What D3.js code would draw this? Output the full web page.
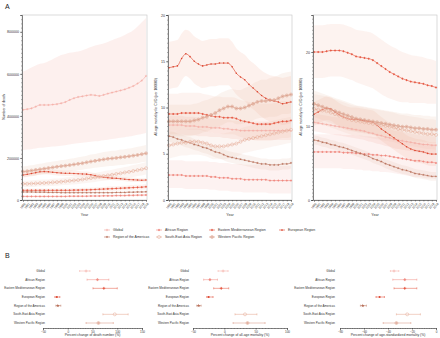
<!DOCTYPE html>
<html>
<head>
<meta charset="utf-8">
<script src="https://cdn.jsdelivr.net/npm/d3@7"></script>
<style>
body{margin:0;background:#fff}
svg{font-family:"Liberation Sans",Arial,sans-serif}
</style>
</head>
<body>
<div id="chart"></div>
<script>
// ---- data ----
var years = [1990,1991,1992,1993,1994,1995,1996,1997,1998,1999,2000,2001,2002,2003,2004,
	2005,2006,2007,2008,2009,2010,2011,2012,2013,2014,2015,2016,2017,2018,2019];

var regions = ["Global","African Region","Eastern Mediterranean Region","European Region",
	"Region of the Americas","South-East Asia Region","Western Pacific Region"];

// number of death, in thousands (order = regions)
var deathMid = [
	[429,432,436,444,452,452,452,454,456,460,466,476,484,490,493,497,500,498,495,500,506,511,516,521,526,534,542,554,568,590],
	[17,17,17,17,17,17,17,17,17,17,17,18,18,18,18,18,19,19,19,20,20,20,21,21,21,22,22,23,23,24],
	[46,46,46,46,46,46,46,46,46,46,46,46,47,47,48,48,49,50,51,52,53,54,55,56,57,58,59,60,61,63],
	[119,122,126,130,134,135,134,132,130,128,127,127,126,125,124,123,120,116,111,108,106,104,103,101,99,97,96,95,94,95],
	[38,38,38,37,37,37,36,36,36,35,35,35,35,35,35,35,35,35,35,35,35,35,36,36,36,37,37,38,38,39],
	[77,77,78,79,80,81,82,84,85,87,89,91,93,95,98,101,104,107,111,114,117,120,124,127,131,134,138,142,146,151],
	[135,137,140,143,146,149,152,155,158,161,163,166,169,172,175,179,183,186,190,193,196,198,200,203,205,208,211,214,218,222]
];
var deathLo = [
	[238,240,242,245,248,250,252,254,256,258,261,264,267,270,272,275,277,279,281,284,287,290,293,296,299,302,306,310,314,319],
	[13,13,13,13,13,13,13,13,13,13,13,14,14,14,14,14,15,15,15,16,16,16,16,16,16,17,17,18,18,19],
	[37,37,37,37,37,37,37,37,37,37,37,37,38,38,38,38,39,40,41,42,42,43,44,45,46,46,47,48,49,50],
	[107,110,113,117,121,122,121,119,117,115,114,114,113,113,112,111,108,104,100,97,95,94,93,91,89,87,86,86,85,86],
	[35,35,35,34,34,34,33,33,33,32,32,32,32,32,32,32,32,32,32,32,32,32,33,33,33,34,34,35,35,36],
	[62,62,62,63,64,65,66,67,68,70,71,73,74,76,78,81,83,86,89,91,94,96,99,102,105,107,110,114,117,121],
	[111,112,115,117,120,122,125,127,130,132,134,136,139,141,144,147,150,153,156,158,161,162,164,166,168,171,173,175,179,182]
];
var deathHi = [
	[611,620,630,640,648,652,660,670,680,690,695,700,703,706,712,720,728,735,740,745,752,760,768,775,785,795,808,825,845,866],
	[21,21,21,21,21,21,21,21,21,21,21,22,22,22,22,22,23,23,23,24,24,24,26,26,26,27,27,28,28,29],
	[55,55,55,55,55,55,55,55,55,55,55,55,56,56,58,58,59,60,61,62,64,65,66,67,68,70,71,72,73,76],
	[131,134,139,143,147,149,147,145,143,141,140,140,139,138,136,135,132,128,122,119,117,114,113,111,109,107,106,105,103,105],
	[41,41,41,40,40,40,39,39,39,38,38,38,38,38,38,38,38,38,38,38,38,38,39,39,39,40,40,41,41,42],
	[92,92,94,95,96,97,98,101,102,104,107,109,112,114,118,121,125,128,133,137,140,144,149,152,157,161,166,170,175,181],
	[159,162,165,169,172,176,179,183,186,190,192,196,199,203,207,211,216,219,224,228,231,234,236,240,242,245,249,253,257,262]
];

// all-age mortality (per 100000)
var allAgeMid = [
	[8.1,8.1,8.1,8.1,8.0,8.0,8.0,7.9,7.9,7.9,7.8,7.8,7.8,7.7,7.7,7.6,7.6,7.5,7.5,7.5,7.5,7.5,7.5,7.5,7.5,7.5,7.5,7.5,7.5,7.5],
	[2.7,2.7,2.7,2.7,2.6,2.6,2.6,2.6,2.6,2.6,2.5,2.5,2.4,2.4,2.4,2.3,2.3,2.3,2.2,2.2,2.2,2.2,2.2,2.2,2.1,2.1,2.1,2.1,2.1,2.1],
	[9.3,9.3,9.3,9.4,9.4,9.4,9.4,9.4,9.3,9.2,9.1,9.0,9.0,8.9,8.9,8.9,8.8,8.6,8.5,8.4,8.3,8.2,8.2,8.2,8.2,8.3,8.4,8.5,8.5,8.6],
	[14.3,14.4,14.5,15.3,15.8,15.5,15.0,14.7,14.5,14.6,14.7,14.7,14.8,14.8,14.8,14.4,13.7,13.3,13.0,12.5,12.1,11.7,11.3,11.0,10.8,10.7,10.6,10.4,10.5,10.6],
	[6.9,6.8,6.6,6.5,6.3,6.2,6.0,5.9,5.7,5.6,5.4,5.2,5.1,4.9,4.7,4.6,4.5,4.4,4.3,4.2,4.1,4.0,3.9,3.9,3.8,3.8,3.8,3.9,3.9,4.0],
	[5.9,6.0,6.1,6.2,6.2,6.3,6.3,6.3,6.2,6.1,5.9,5.8,5.8,5.8,5.9,6.0,6.1,6.3,6.5,6.6,6.7,6.8,6.9,7.0,7.1,7.2,7.3,7.4,7.5,7.6],
	[8.5,8.5,8.5,8.5,8.5,8.5,8.6,8.7,8.9,9.0,9.2,9.4,9.7,9.9,10.1,10.1,9.9,9.9,10.0,10.2,10.4,10.6,10.7,10.7,10.8,10.8,11.0,11.2,11.3,11.4]
];
var allAgeLo = [
	[7.1,7.1,7.1,7.1,7.0,7.0,7.0,6.9,6.9,6.9,6.8,6.8,6.8,6.7,6.7,6.6,6.6,6.5,6.5,6.5,6.5,6.5,6.5,6.5,6.5,6.5,6.5,6.5,6.5,6.5],
	[1.3,1.3,1.3,1.3,1.2,1.2,1.2,1.2,1.2,1.2,1.1,1.1,1.0,1.0,1.0,0.9,0.9,0.9,0.8,0.8,0.8,0.8,0.8,0.8,0.7,0.7,0.7,0.7,0.7,0.7],
	[7.5,7.5,7.5,7.6,7.6,7.6,7.6,7.6,7.5,7.4,7.3,7.2,7.2,7.1,7.1,7.1,7.0,6.8,6.7,6.6,6.5,6.4,6.4,6.4,6.4,6.5,6.6,6.7,6.7,6.8],
	[12.0,12.1,12.2,12.9,13.4,13.1,12.6,12.3,12.1,12.2,12.3,12.3,12.4,12.4,12.4,12.0,11.4,11.0,10.7,10.2,9.8,9.4,9.0,8.7,8.5,8.4,8.3,8.1,8.2,8.3],
	[6.3,6.2,6.0,5.9,5.7,5.6,5.4,5.3,5.1,5.0,4.8,4.6,4.5,4.3,4.1,4.0,3.9,3.8,3.7,3.6,3.5,3.4,3.3,3.3,3.2,3.2,3.2,3.3,3.3,3.4],
	[4.5,4.6,4.7,4.8,4.8,4.9,4.9,4.9,4.8,4.7,4.5,4.4,4.4,4.4,4.5,4.6,4.7,4.9,5.1,5.2,5.3,5.4,5.5,5.6,5.7,5.8,5.9,6.0,6.1,6.2],
	[6.9,6.9,6.9,6.9,6.9,6.9,7.0,7.1,7.3,7.4,7.6,7.8,8.0,8.2,8.4,8.4,8.2,8.2,8.3,8.4,8.6,8.8,8.9,8.9,9.0,9.0,9.1,9.3,9.3,9.4]
];
var allAgeHi = [
	[9.1,9.1,9.1,9.1,9.0,9.0,9.0,8.9,8.9,8.9,8.8,8.8,8.8,8.7,8.7,8.6,8.6,8.5,8.5,8.5,8.5,8.5,8.5,8.5,8.5,8.5,8.5,8.5,8.5,8.5],
	[4.3,4.3,4.3,4.3,4.2,4.2,4.2,4.2,4.2,4.2,4.1,4.1,4.0,4.0,4.0,3.9,3.9,3.9,3.8,3.8,3.8,3.8,3.8,3.8,3.7,3.7,3.7,3.7,3.7,3.7],
	[11.5,11.5,11.5,11.6,11.6,11.6,11.6,11.6,11.5,11.4,11.3,11.2,11.2,11.1,11.1,11.1,11.0,10.8,10.7,10.6,10.5,10.4,10.4,10.4,10.4,10.5,10.6,10.7,10.7,10.8],
	[17.1,17.2,17.3,18.0,18.4,18.2,17.7,17.4,17.2,17.3,17.4,17.4,17.5,17.5,17.5,17.1,16.4,16.0,15.7,15.2,14.8,14.4,14.0,13.7,13.5,13.4,13.3,13.2,13.3,13.4],
	[7.5,7.4,7.2,7.1,6.9,6.8,6.6,6.5,6.3,6.2,6.0,5.8,5.7,5.5,5.3,5.2,5.1,5.0,4.9,4.8,4.7,4.6,4.5,4.5,4.4,4.4,4.4,4.5,4.5,4.6],
	[7.3,7.4,7.5,7.6,7.6,7.7,7.7,7.7,7.6,7.5,7.3,7.2,7.2,7.2,7.3,7.4,7.5,7.7,7.9,8.0,8.1,8.2,8.3,8.4,8.5,8.6,8.7,8.8,8.9,9.0],
	[10.3,10.3,10.3,10.3,10.3,10.3,10.4,10.5,10.7,10.8,11.0,11.2,11.5,11.7,11.9,12.0,11.9,11.9,12.1,12.3,12.6,12.8,13.0,13.0,13.2,13.3,13.5,13.7,13.8,13.9]
];

// age-standardized mortality (per 100000)
var ageStdMid = [
	[10.5,10.4,10.3,10.2,10.1,10.0,9.9,9.8,9.7,9.6,9.5,9.4,9.3,9.1,9.0,8.8,8.7,8.5,8.4,8.2,8.1,8.0,7.9,7.8,7.7,7.6,7.5,7.5,7.4,7.4],
	[6.5,6.5,6.5,6.5,6.5,6.5,6.5,6.4,6.4,6.4,6.3,6.3,6.2,6.2,6.1,6.1,6.0,6.0,5.9,5.8,5.7,5.6,5.5,5.4,5.3,5.3,5.2,5.1,5.1,5.0],
	[20.0,20.0,20.0,20.1,20.2,20.2,20.2,20.1,19.9,19.7,19.4,19.3,19.2,19.1,18.9,18.5,18.1,17.7,17.3,17.0,16.7,16.4,16.2,16.0,15.9,15.8,15.7,15.5,15.4,15.2],
	[11.6,11.9,12.2,12.4,12.3,11.9,11.5,11.2,11.0,10.9,10.9,10.8,10.7,10.6,10.5,10.1,9.6,9.2,8.8,8.4,8.0,7.6,7.2,6.9,6.7,6.6,6.5,6.3,6.2,6.2],
	[8.1,8.0,7.8,7.7,7.5,7.4,7.2,7.1,6.9,6.7,6.5,6.3,6.1,5.9,5.6,5.4,5.2,4.9,4.7,4.5,4.3,4.1,4.0,3.8,3.6,3.5,3.4,3.3,3.2,3.2],
	[12.3,12.2,12.1,12.0,11.8,11.6,11.4,11.2,11.0,10.8,10.7,10.6,10.5,10.4,10.3,10.2,10.1,10.0,9.9,9.8,9.6,9.5,9.4,9.3,9.2,9.1,9.0,8.9,8.9,8.8],
	[13.0,12.8,12.6,12.4,12.2,12.0,11.8,11.6,11.4,11.2,11.0,10.9,10.8,10.7,10.6,10.5,10.4,10.3,10.2,10.1,10.0,9.9,9.9,9.8,9.7,9.7,9.6,9.6,9.5,9.5]
];
var ageStdLo = [
	[9.3,9.2,9.1,9.0,8.9,8.8,8.7,8.6,8.5,8.4,8.3,8.2,8.1,7.9,7.8,7.6,7.5,7.3,7.2,7.0,6.9,6.8,6.7,6.6,6.5,6.4,6.3,6.3,6.2,6.2],
	[4.3,4.3,4.3,4.3,4.3,4.3,4.3,4.2,4.2,4.2,4.1,4.1,4.0,4.0,3.9,3.9,3.8,3.8,3.7,3.6,3.5,3.4,3.3,3.2,3.1,3.1,3.0,2.9,2.9,2.8],
	[16.5,16.5,16.5,16.6,16.7,16.7,16.7,16.6,16.4,16.2,15.9,15.7,15.5,15.3,15.1,14.7,14.3,14.0,13.7,13.5,13.3,13.2,13.2,13.1,13.1,13.1,13.1,13.0,13.0,13.0],
	[10.0,10.3,10.6,10.8,10.7,10.3,9.9,9.6,9.4,9.3,9.3,9.2,9.1,9.0,8.9,8.5,8.0,7.6,7.2,6.8,6.4,6.0,5.6,5.3,5.1,5.0,4.9,4.7,4.6,4.6],
	[7.5,7.4,7.2,7.1,6.9,6.8,6.6,6.5,6.3,6.1,5.9,5.7,5.5,5.3,5.0,4.8,4.6,4.3,4.1,3.9,3.7,3.5,3.4,3.2,3.0,2.9,2.8,2.7,2.6,2.6],
	[10.3,10.2,10.1,10.0,9.8,9.6,9.4,9.2,9.0,8.8,8.7,8.6,8.5,8.4,8.3,8.2,8.1,8.0,7.9,7.8,7.6,7.5,7.4,7.3,7.2,7.1,7.0,6.9,6.9,6.8],
	[11.2,11.0,10.8,10.6,10.4,10.2,10.0,9.8,9.6,9.4,9.2,9.1,9.0,8.9,8.8,8.7,8.6,8.5,8.4,8.3,8.2,8.1,8.1,8.0,7.9,7.9,7.8,7.8,7.7,7.7]
];
var ageStdHi = [
	[11.7,11.6,11.5,11.4,11.3,11.2,11.1,11.0,10.9,10.8,10.7,10.6,10.5,10.3,10.2,10.0,9.9,9.7,9.6,9.4,9.3,9.2,9.1,9.0,8.9,8.8,8.7,8.7,8.6,8.6],
	[8.9,8.9,8.9,8.9,8.9,8.9,8.9,8.8,8.8,8.8,8.7,8.7,8.6,8.6,8.5,8.5,8.4,8.4,8.3,8.2,8.1,8.0,7.9,7.8,7.7,7.7,7.6,7.5,7.5,7.4],
	[23.6,23.6,23.6,23.7,23.8,23.8,23.8,23.7,23.5,23.3,23.0,22.9,22.8,22.7,22.5,22.1,21.7,21.3,20.9,20.6,20.3,20.0,19.8,19.6,19.5,19.4,19.3,19.1,19.0,18.8],
	[13.2,13.5,13.8,14.0,13.9,13.5,13.1,12.8,12.6,12.5,12.5,12.4,12.3,12.2,12.1,11.7,11.2,10.8,10.4,10.0,9.6,9.2,8.8,8.5,8.3,8.2,8.1,7.9,7.8,7.8],
	[8.7,8.6,8.4,8.3,8.1,8.0,7.8,7.7,7.5,7.3,7.1,6.9,6.7,6.5,6.2,6.0,5.8,5.5,5.3,5.1,4.9,4.7,4.6,4.4,4.2,4.1,4.0,3.9,3.8,3.8],
	[14.3,14.2,14.1,14.0,13.8,13.6,13.4,13.2,13.0,12.8,12.7,12.6,12.5,12.4,12.3,12.2,12.1,12.0,11.9,11.8,11.6,11.5,11.4,11.3,11.2,11.1,11.0,10.9,10.9,10.8],
	[14.8,14.6,14.4,14.2,14.0,13.8,13.6,13.4,13.2,13.0,12.8,12.7,12.6,12.5,12.4,12.3,12.2,12.1,12.0,11.9,11.8,11.7,11.7,11.6,11.5,11.5,11.4,11.4,11.3,11.3]
];

// percent change 1990-2019 (point, lower, upper)
var pctDeath = [37,60,73,-22,-20,95,62];
var pctDeathLo = [24,39,51,-26,-24,71,37];
var pctDeathHi = [45,83,100,-16,-14,122,92];
var pctAllAge = [-2,-23,-5,-25,-41,33,37];
var pctAllAgeLo = [-10,-33,-17,-28,-44,17,14];
var pctAllAgeHi = [6,-11,7,-18,-37,52,65];
var pctAgeStd = [-35,-26,-26,-47,-61,-24,-33];
var pctAgeStdLo = [-38,-36,-35,-50,-63,-33,-44];
var pctAgeStdHi = [-31,-16,-16,-43,-58,-13,-21];

var deathTicks = [0,200,400,600,800];
var allAgeTicks = [0,5,10,15,20];
var ageStdTicks = [0,10,20];
var pctDeathTicks = [-50,0,50,100,150];
var pctAllAgeTicks = [-50,0,50,100];
var pctAgeStdTicks = [-80,-60,-40,-20,0];

// ---- styles ----
var colors = ["#f4aaa2","#f08a80","#e5553f","#dc432c","#b8705a","#e3a28a","#d6937c"];
var bandColors = ["#f6b2aa","#f5b0a6","#f3b4a2","#f1a690","#e2b4a2","#efc0ac","#e8b8a4"];
var marks = ["plus","dotplus","diamondplus","dot","star","ring","ringplus"];

var svg = d3.select("#chart").append("svg").attr("width",440).attr("height",338);

function drawMark(g, type, cx, cy, c, s){
	var h = s/2;
	if(type=="ring" || type=="ringplus"){
		g.append("circle").attr("cx",cx).attr("cy",cy).attr("r",h)
		.attr("fill","#fff").attr("fill-opacity",0.3).attr("stroke",c).attr("stroke-width",0.45);
	}
	if(type=="dot" || type=="dotplus"){
		g.append("circle").attr("cx",cx).attr("cy",cy).attr("r",h*0.7).attr("fill",c);
	}
	if(type=="star"){
		g.append("path").attr("d",d3.symbol(d3.symbolStar, s*s*0.45)())
		.attr("transform","translate("+cx+","+cy+")").attr("fill",c);
	}
	if(type=="diamondplus"){
		g.append("path").attr("d",d3.symbol(d3.symbolDiamond, s*s*0.25)())
		.attr("transform","translate("+cx+","+cy+")").attr("fill",c);
	}
	if(type.indexOf("plus")>=0){
		var k = type=="ringplus" ? h*0.75 : h;
		g.append("path").attr("d","M"+(cx-k)+","+cy+"H"+(cx+k)+"M"+cx+","+(cy-k)+"V"+(cy+k))
		.attr("stroke",c).attr("stroke-width",0.55).attr("fill","none");
	}
}

function drawTrend(x0, x1, mid, lo, hi, yMax, ticks, minorStep, fmt, yLabel, labelX){
	var g = svg.append("g");
	var x = d3.scalePoint().domain(years).range([x0+1, x1-1]);
	var y = d3.scaleLinear().domain([0,yMax]).range([200,15]);

	g.append("rect").attr("x",x0).attr("y",15).attr("width",x1-x0).attr("height",185)
	.attr("fill","none").attr("stroke","#c4c4c4").attr("stroke-width",0.6);

	regions.forEach(function(r,i){
		var area = d3.area()
		.x(function(d){ return x(d); })
		.y0(function(d,k){ return y(lo[i][k]); })
		.y1(function(d,k){ return y(hi[i][k]); })
		.curve(d3.curveMonotoneX);
		g.append("path").datum(years).attr("d",area)
		.attr("fill",bandColors[i]).attr("fill-opacity",i==0 ? 0.2 : 0.16);
	});

	regions.forEach(function(r,i){
		var line = d3.line()
		.x(function(d){ return x(d); })
		.y(function(d,k){ return y(mid[i][k]); })
		.curve(d3.curveMonotoneX);
		g.append("path").datum(years).attr("d",line)
		.attr("fill","none").attr("stroke",colors[i]).attr("stroke-width",0.6);
		years.forEach(function(yr,k){
			drawMark(g, marks[i], x(yr), y(mid[i][k]), colors[i], i>=5 ? 3 : 2.2);
		});
	});

	// axes
	var minor = d3.range(0, yMax+1e-9, minorStep);
	g.append("g").attr("transform","translate("+x0+",0)")
	.call(d3.axisLeft(y).tickValues(minor).tickSize(1).tickFormat(""))
	.call(function(a){ a.select(".domain").remove(); a.selectAll("line").attr("stroke","#444").attr("stroke-width",0.4); });
	var ya = g.append("g").attr("transform","translate("+x0+",0)")
	.call(d3.axisLeft(y).tickValues(ticks).tickSize(2).tickPadding(1).tickFormat(fmt));
	ya.select(".domain").attr("stroke","#333").attr("stroke-width",0.6);
	ya.selectAll("line").attr("stroke","#333").attr("stroke-width",0.5);
	ya.selectAll("text").attr("font-size",3.6).attr("fill","#333");

	var xa = g.append("g").attr("transform","translate(0,200)")
	.call(d3.axisBottom(x).tickSize(1.5).tickPadding(0.5));
	xa.select(".domain").attr("stroke","#333").attr("stroke-width",0.6);
	xa.selectAll("line").attr("stroke","#333").attr("stroke-width",0.4);
	xa.selectAll("text").attr("font-size",3).attr("fill","#333")
	.attr("text-anchor","end").attr("dy","0.3em")
	.attr("transform","translate(0,2) rotate(-50)");

	g.append("text").attr("x",(x0+x1)/2).attr("y",216).attr("text-anchor","middle")
	.attr("font-size",3.6).attr("fill","#333").text("Year");
	g.append("text").attr("transform","translate("+labelX+",107) rotate(-90)")
	.attr("text-anchor","middle").attr("font-size",3.4).attr("fill","#333").text(yLabel);
}

function drawForest(xa, xb, domain, ticks, minorStep, mid, lo, hi, label, labelRight){
	var g = svg.append("g");
	var x = d3.scaleLinear().domain(domain).range([xa,xb]);
	var y = d3.scalePoint().domain(regions).range([271,323]);

	regions.forEach(function(r,i){
		var cy = y(r);
		g.append("path").attr("d","M"+x(lo[i])+","+cy+"H"+x(hi[i])
			+"M"+x(lo[i])+","+(cy-1)+"V"+(cy+1)+"M"+x(hi[i])+","+(cy-1)+"V"+(cy+1))
		.attr("stroke",colors[i]).attr("stroke-width",0.5).attr("fill","none");
		drawMark(g, marks[i], x(mid[i]), cy, colors[i], 3);
		g.append("text").attr("x",labelRight).attr("y",cy).attr("dy","0.35em")
		.attr("text-anchor","end").attr("font-size",3).attr("fill","#333").text(r);
	});

	var minor = d3.range(domain[0], domain[1]+1e-9, minorStep);
	g.append("g").attr("transform","translate(0,328)")
	.call(d3.axisBottom(x).tickValues(minor).tickSize(1).tickFormat(""))
	.call(function(a){ a.select(".domain").remove(); a.selectAll("line").attr("stroke","#444").attr("stroke-width",0.35); });
	var ax = g.append("g").attr("transform","translate(0,328)")
	.call(d3.axisBottom(x).tickValues(ticks).tickSize(1.8).tickPadding(0.6));
	ax.select(".domain").attr("stroke","#333").attr("stroke-width",0.6);
	ax.selectAll("line").attr("stroke","#333").attr("stroke-width",0.45);
	ax.selectAll("text").attr("font-size",3).attr("fill","#333");

	g.append("text").attr("x",(xa+xb)/2).attr("y",336).attr("text-anchor","middle")
	.attr("font-size",3.4).attr("fill","#333").text(label);
}

drawTrend(22,147,deathMid,deathLo,deathHi,880,deathTicks,20,function(d){ return d*1000; },"Number of death",5);
drawTrend(168,292,allAgeMid,allAgeLo,allAgeHi,20,allAgeTicks,0.5,d3.format("d"),"All-age mortality for CVD (per 100000)",157);
drawTrend(313,437,ageStdMid,ageStdLo,ageStdHi,25,ageStdTicks,0.5,d3.format("d"),"All-age mortality for CVD (per 100000)",302);

// legend
var legendPos = [[107,230],[159,230],[212,230],[282,230],[107,237],[159,237],[212,237]];
regions.forEach(function(r,i){
	var lx = legendPos[i][0], ly = legendPos[i][1];
	svg.append("path").attr("d","M"+(lx-3)+","+ly+"H"+(lx+3))
	.attr("stroke",colors[i]).attr("stroke-width",0.6);
	drawMark(svg, marks[i], lx, ly, colors[i], i>=5 ? 3 : 2.4);
	svg.append("text").attr("x",lx+6).attr("y",ly).attr("dy","0.35em")
	.attr("font-size",3.5).attr("fill","#333").text(r);
});

svg.append("text").attr("x",5).attr("y",9).attr("font-size",7).attr("fill","#222").text("A");
svg.append("text").attr("x",5).attr("y",258).attr("font-size",7).attr("fill","#222").text("B");

drawForest(43,142,[-50,150],pctDeathTicks,5,pctDeath,pctDeathLo,pctDeathHi,"Percent change of death number (%)",45);
drawForest(193,287,[-50,100],pctAllAgeTicks,5,pctAllAge,pctAllAgeLo,pctAllAgeHi,"Percent change of all-age mortality (%)",189);
drawForest(340,436,[-80,0],pctAgeStdTicks,2,pctAgeStd,pctAgeStdLo,pctAgeStdHi,"Percent change of age-standardized mortality (%)",335);
</script>
</body>
</html>
